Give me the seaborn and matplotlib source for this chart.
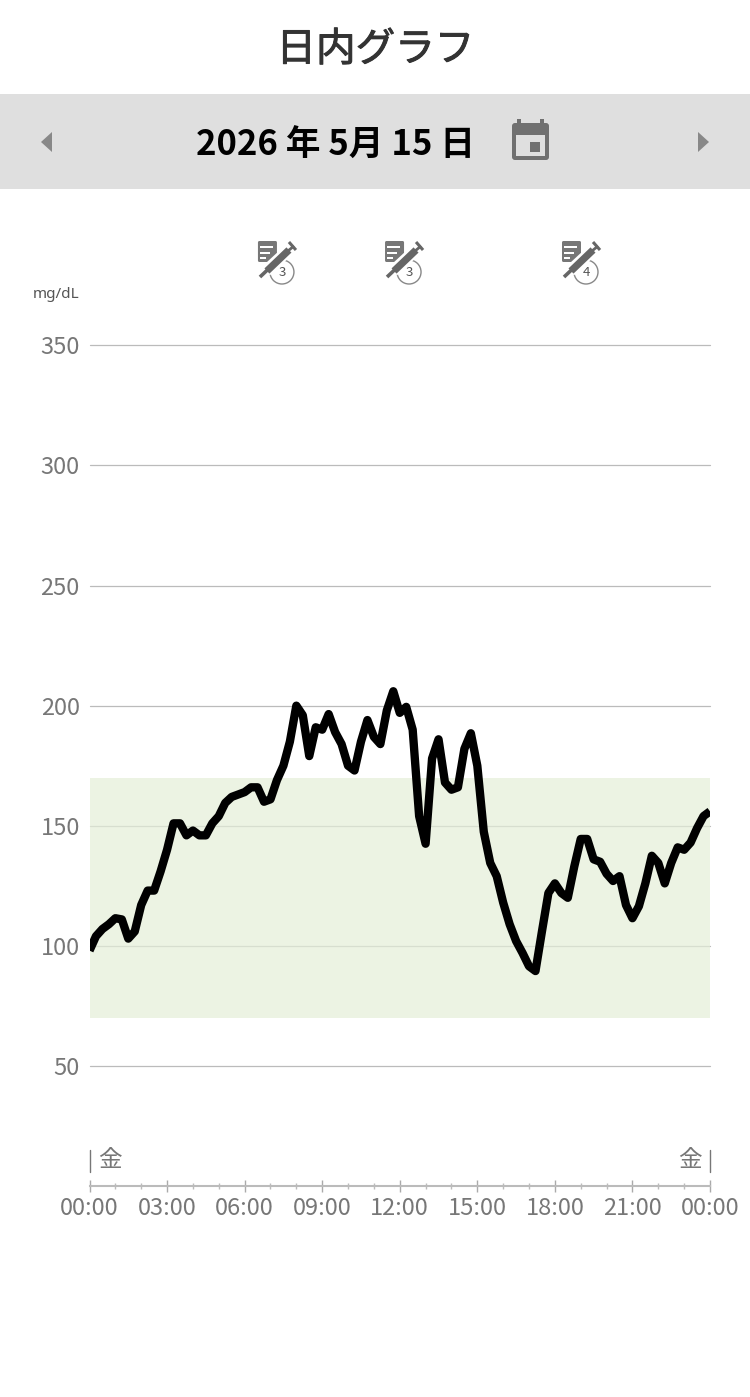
import numpy as np
import matplotlib
matplotlib.use("Agg")
import matplotlib.pyplot as plt
import matplotlib.patheffects as pe
from matplotlib.patches import Rectangle, Polygon, Circle, FancyBboxPatch
import seaborn as sns

glucose = [98,104,107,109,111.5,111,103,106,117,123,123,131,140,151,151,146,148,146,146,151,
           154,159.5,162,163,164,166,166,160,161,169,175,185,200,196,179,191,190,196.5,189,184,
           175,173,185,194,187,184,198,206,197,199.5,190,154,142.5,178,186,168,165,166,182,188.5,
           175,147.5,134.5,129,118,109,102,97,91.5,89.5,106,122,126,122,120,133,144.5,144.5,136,135,
           130,127,129,117,111.5,116.5,126,137.5,134.5,126,134.5,141,140,143,149,154,156]
step_hours = 0.25
y_ticks = [50,100,150,200,250,300,350]
x_major = [0,3,6,9,12,15,18,21,24]
x_labels = ["00:00","03:00","06:00","09:00","12:00","15:00","18:00","21:00","00:00"]
x_minor = [h for h in range(25) if h % 3]
target_low, target_high = 70, 170
event_hours = [7.43, 12.35, 19.2]
event_counts = [3, 3, 4]
title = "日内グラフ"
date_label = "2026 年 5月 15 日"
unit = "mg/dL"
weekday = "金"

sns.set_theme(style="white")
plt.rcParams["font.family"] = ["Noto Sans CJK JP", "DejaVu Sans"]
GREY = "#777777"
W, H = 750, 1397
fig = plt.figure(figsize=(W/100, H/100), dpi=100, facecolor="white")

def px_axes(l, t, r, b):
    return fig.add_axes([l/W, 1-b/H, (r-l)/W, (b-t)/H])

ax = px_axes(89.5, 345.4, 710, 1186)
ax.set_xlim(0, 24); ax.set_ylim(0, 350)
ax.patch.set_alpha(0)
hours = np.arange(len(glucose))*step_hours
for v in y_ticks:
    ax.axhline(v, color="#bbbbbb", lw=0.9, zorder=1, clip_on=False)
ax.axhspan(target_low, target_high, color="#e4eed8", alpha=0.7, lw=0, zorder=2)
sns.lineplot(x=hours, y=glucose, ax=ax, color="black", lw=6.0, errorbar=None, zorder=3,
             solid_joinstyle="round", solid_capstyle="butt")
ax.set_xlabel(""); ax.set_ylabel("")
for s in ["top","left","right"]:
    ax.spines[s].set_visible(False)
ax.spines["bottom"].set_color("#bbbbbb"); ax.spines["bottom"].set_linewidth(1.5)
ax.set_xticks(x_major); ax.set_xticklabels(x_labels)
ax.set_xticks(x_minor, minor=True)
ax.set_yticks(y_ticks); ax.set_yticklabels([str(v) for v in y_ticks])
ax.tick_params(axis="y", length=0, pad=7, labelsize=17, labelcolor=GREY)
ax.tick_params(axis="x", which="major", direction="inout", bottom=True, length=8, width=1, color="#aaaaaa",
               pad=4, labelsize=17, labelcolor=GREY)
ax.tick_params(axis="x", which="minor", direction="inout", bottom=True, length=4, width=1, color="#bbbbbb")

ov = fig.add_axes([0,0,1,1], zorder=5)
ov.set_xlim(0, W); ov.set_ylim(H, 0); ov.axis("off"); ov.patch.set_alpha(0)

ov.text(375.5, 50, title, ha="center", va="center", fontsize=28.5, color="#333333",
        path_effects=[pe.withStroke(linewidth=0.7, foreground="#333333")])
ov.add_patch(Rectangle((0,94), W, 95, color="#dfdfdf", lw=0))
ov.text(335, 145, date_label, ha="center", va="center", fontsize=25, color="black", weight="bold")
ov.add_patch(Polygon([(52,132),(52,152),(41,142)], color="#888888", lw=0))
ov.add_patch(Polygon([(698,132),(698,152),(709,142)], color="#888888", lw=0))
# calendar icon
cal = "#707070"
ov.add_patch(FancyBboxPatch((512,123), 37, 37, boxstyle="round,pad=0,rounding_size=3", color=cal, lw=0))
ov.add_patch(Rectangle((517,119), 4, 6, color=cal, lw=0))
ov.add_patch(Rectangle((540,119), 4, 6, color=cal, lw=0))
ov.add_patch(Rectangle((516,135), 29, 21, color="#dfdfdf", lw=0))
ov.add_patch(Rectangle((530,142), 10, 10, color=cal, lw=0))

# event icons
for h, n in zip(event_hours, event_counts):
    cx = 90 + h/24*620
    ov.add_patch(FancyBboxPatch((cx-24,241), 19, 21, boxstyle="round,pad=0,rounding_size=1.5", color=GREY, lw=0))
    for yy, ww in [(246,13),(251.5,10),(256.5,6)]:
        ov.add_patch(Rectangle((cx-22,yy), ww, 2.0, color="white", lw=0))
    ov.plot([cx-16,cx+10],[271,247], color="white", lw=8.5, solid_capstyle="butt")
    ov.plot([cx-22,cx-13],[277,268.5], color="#666666", lw=2.6, solid_capstyle="butt")
    ov.plot([cx-15,cx+7],[271,250], color="#666666", lw=5.2, solid_capstyle="butt")
    ov.plot([cx+6,cx+12],[251,246], color="#666666", lw=2, solid_capstyle="butt")
    ov.plot([cx+7,cx+14],[242,250], color="#666666", lw=2.2, solid_capstyle="butt")
    ov.add_patch(Circle((cx,272), 12, facecolor="white", edgecolor="#888888", lw=1))
    ov.text(cx, 272, str(n), ha="center", va="center", fontsize=9.5, color="#555555")

ov.text(33, 294, unit, ha="left", va="center", fontsize=11, color="#555555", family=["Noto Sans","DejaVu Sans"])
# weekday marks
ov.plot([90,90],[1150,1172], color=GREY, lw=1)
ov.plot([710,710],[1150,1172], color=GREY, lw=1)
ov.text(110, 1161, weekday, ha="center", va="center", fontsize=17, color=GREY)
ov.text(690, 1161, weekday, ha="center", va="center", fontsize=17, color=GREY)

fig.savefig("out.png", dpi=100)
